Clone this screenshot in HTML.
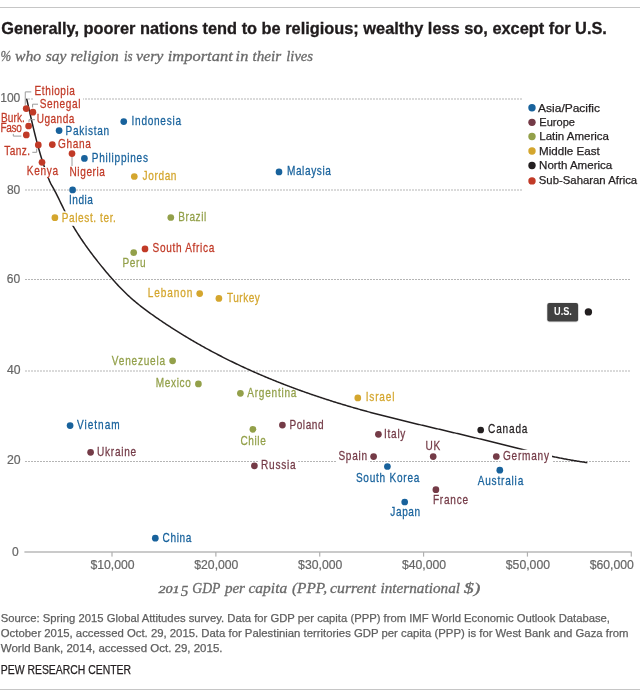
<!DOCTYPE html>
<html><head><meta charset="utf-8"><style>
html,body{margin:0;padding:0;background:#fff;}
svg{display:block;will-change:transform;}
text{font-family:"Liberation Sans",sans-serif;}
</style></head><body>
<svg width="640" height="697" viewBox="0 0 640 697">
<rect x="0" y="7" width="640" height="1" fill="#c6c6c6"/>
<text x="1.20" y="33.60" font-size="16" fill="#1f1b1c" textLength="605.68" lengthAdjust="spacingAndGlyphs" font-weight="bold" stroke="#1f1b1c" stroke-width="0.3">Generally, poorer nations tend to be religious; wealthy less so, except for U.S.</text>
<text x="0.50" y="61.10" font-size="14" fill="#6a6a6a" textLength="10.71" lengthAdjust="spacingAndGlyphs" font-style="italic" style="font-family:&quot;Liberation Serif&quot;,serif" stroke="#6a6a6a" stroke-width="0.3">%</text>
<text x="15.00" y="61.10" font-size="14" fill="#6a6a6a" textLength="26.19" lengthAdjust="spacingAndGlyphs" font-style="italic" style="font-family:&quot;Liberation Serif&quot;,serif" stroke="#6a6a6a" stroke-width="0.3">who</text>
<text x="45.70" y="61.10" font-size="14" fill="#6a6a6a" textLength="20.66" lengthAdjust="spacingAndGlyphs" font-style="italic" style="font-family:&quot;Liberation Serif&quot;,serif" stroke="#6a6a6a" stroke-width="0.3">say</text>
<text x="70.60" y="61.10" font-size="14" fill="#6a6a6a" textLength="48.21" lengthAdjust="spacingAndGlyphs" font-style="italic" style="font-family:&quot;Liberation Serif&quot;,serif" stroke="#6a6a6a" stroke-width="0.3">religion</text>
<text x="123.90" y="61.10" font-size="14" fill="#6a6a6a" textLength="8.69" lengthAdjust="spacingAndGlyphs" font-style="italic" style="font-family:&quot;Liberation Serif&quot;,serif" stroke="#6a6a6a" stroke-width="0.3">is</text>
<text x="136.00" y="61.10" font-size="14" fill="#6a6a6a" textLength="27.43" lengthAdjust="spacingAndGlyphs" font-style="italic" style="font-family:&quot;Liberation Serif&quot;,serif" stroke="#6a6a6a" stroke-width="0.3">very</text>
<text x="167.80" y="61.10" font-size="14" fill="#6a6a6a" textLength="64.92" lengthAdjust="spacingAndGlyphs" font-style="italic" style="font-family:&quot;Liberation Serif&quot;,serif" stroke="#6a6a6a" stroke-width="0.3">important</text>
<text x="235.60" y="61.10" font-size="14" fill="#6a6a6a" textLength="12.69" lengthAdjust="spacingAndGlyphs" font-style="italic" style="font-family:&quot;Liberation Serif&quot;,serif" stroke="#6a6a6a" stroke-width="0.3">in</text>
<text x="252.50" y="61.10" font-size="14" fill="#6a6a6a" textLength="28.74" lengthAdjust="spacingAndGlyphs" font-style="italic" style="font-family:&quot;Liberation Serif&quot;,serif" stroke="#6a6a6a" stroke-width="0.3">their</text>
<text x="286.30" y="61.10" font-size="14" fill="#6a6a6a" textLength="26.71" lengthAdjust="spacingAndGlyphs" font-style="italic" style="font-family:&quot;Liberation Serif&quot;,serif" stroke="#6a6a6a" stroke-width="0.3">lives</text>
<line x1="28" y1="99.0" x2="522" y2="99.0" stroke="#b5b5b5" stroke-width="1" stroke-dasharray="2,1"/>
<line x1="25" y1="190.0" x2="522" y2="190.0" stroke="#b5b5b5" stroke-width="1" stroke-dasharray="2,1"/>
<line x1="25" y1="279.5" x2="631" y2="279.5" stroke="#b5b5b5" stroke-width="1" stroke-dasharray="2,1"/>
<line x1="25" y1="371.0" x2="631" y2="371.0" stroke="#b5b5b5" stroke-width="1" stroke-dasharray="2,1"/>
<line x1="25" y1="461.5" x2="631" y2="461.5" stroke="#b5b5b5" stroke-width="1" stroke-dasharray="2,1"/>
<text x="0.20" y="101.90" font-size="12" fill="#666" textLength="20.12" lengthAdjust="spacingAndGlyphs" stroke="#666" stroke-width="0.2">100</text>
<text x="6.90" y="193.90" font-size="12" fill="#666" textLength="13.40" lengthAdjust="spacingAndGlyphs" stroke="#666" stroke-width="0.2">80</text>
<text x="6.75" y="282.65" font-size="12" fill="#666" textLength="13.40" lengthAdjust="spacingAndGlyphs" stroke="#666" stroke-width="0.2">60</text>
<text x="7.00" y="373.70" font-size="12" fill="#666" textLength="13.60" lengthAdjust="spacingAndGlyphs" stroke="#666" stroke-width="0.2">40</text>
<text x="6.90" y="464.00" font-size="12" fill="#666" textLength="13.70" lengthAdjust="spacingAndGlyphs" stroke="#666" stroke-width="0.2">20</text>
<text x="11.90" y="555.90" font-size="12" fill="#666" textLength="6.72" lengthAdjust="spacingAndGlyphs" stroke="#666" stroke-width="0.2">0</text>
<rect x="24.4" y="551.2" width="607.3" height="1.6" fill="#bdbdbd"/>
<rect x="111.40" y="552" width="1.2" height="4.6" fill="#b0b0b0"/>
<text x="90.40" y="568.90" font-size="12" fill="#666" textLength="44.18" lengthAdjust="spacingAndGlyphs" stroke="#666" stroke-width="0.2">$10,000</text>
<rect x="215.26" y="552" width="1.2" height="4.6" fill="#b0b0b0"/>
<text x="194.26" y="568.90" font-size="12" fill="#666" textLength="44.18" lengthAdjust="spacingAndGlyphs" stroke="#666" stroke-width="0.2">$20,000</text>
<rect x="319.12" y="552" width="1.2" height="4.6" fill="#b0b0b0"/>
<text x="298.12" y="568.90" font-size="12" fill="#666" textLength="44.18" lengthAdjust="spacingAndGlyphs" stroke="#666" stroke-width="0.2">$30,000</text>
<rect x="422.98" y="552" width="1.2" height="4.6" fill="#b0b0b0"/>
<text x="401.98" y="568.90" font-size="12" fill="#666" textLength="44.18" lengthAdjust="spacingAndGlyphs" stroke="#666" stroke-width="0.2">$40,000</text>
<rect x="526.84" y="552" width="1.2" height="4.6" fill="#b0b0b0"/>
<text x="505.84" y="568.90" font-size="12" fill="#666" textLength="44.18" lengthAdjust="spacingAndGlyphs" stroke="#666" stroke-width="0.2">$50,000</text>
<rect x="630.70" y="552" width="1.2" height="4.6" fill="#b0b0b0"/>
<text x="589.70" y="568.90" font-size="12" fill="#666" textLength="44.18" lengthAdjust="spacingAndGlyphs" stroke="#666" stroke-width="0.2">$60,000</text>
<text x="158.50" y="592.70" font-size="10" fill="#6a6a6a" textLength="21.10" lengthAdjust="spacingAndGlyphs" font-style="italic" style="font-family:&quot;Liberation Serif&quot;,serif" stroke="#6a6a6a" stroke-width="0.35">201</text>
<text x="180.70" y="595.80" font-size="14" fill="#6a6a6a" textLength="7.60" lengthAdjust="spacingAndGlyphs" font-style="italic" style="font-family:&quot;Liberation Serif&quot;,serif" stroke="#6a6a6a" stroke-width="0.3">5</text>
<text x="192.30" y="592.70" font-size="14" fill="#6a6a6a" textLength="28.12" lengthAdjust="spacingAndGlyphs" font-style="italic" style="font-family:&quot;Liberation Serif&quot;,serif" stroke="#6a6a6a" stroke-width="0.3">GDP</text>
<text x="224.91" y="592.70" font-size="14" fill="#6a6a6a" textLength="20.05" lengthAdjust="spacingAndGlyphs" font-style="italic" style="font-family:&quot;Liberation Serif&quot;,serif" stroke="#6a6a6a" stroke-width="0.3">per</text>
<text x="248.50" y="592.70" font-size="14" fill="#6a6a6a" textLength="38.69" lengthAdjust="spacingAndGlyphs" font-style="italic" style="font-family:&quot;Liberation Serif&quot;,serif" stroke="#6a6a6a" stroke-width="0.3">capita</text>
<text x="291.90" y="592.70" font-size="14" fill="#6a6a6a" textLength="35.11" lengthAdjust="spacingAndGlyphs" font-style="italic" style="font-family:&quot;Liberation Serif&quot;,serif" stroke="#6a6a6a" stroke-width="0.3">(PPP,</text>
<text x="330.00" y="592.70" font-size="14" fill="#6a6a6a" textLength="45.91" lengthAdjust="spacingAndGlyphs" font-style="italic" style="font-family:&quot;Liberation Serif&quot;,serif" stroke="#6a6a6a" stroke-width="0.3">current</text>
<text x="380.50" y="592.70" font-size="14" fill="#6a6a6a" textLength="79.51" lengthAdjust="spacingAndGlyphs" font-style="italic" style="font-family:&quot;Liberation Serif&quot;,serif" stroke="#6a6a6a" stroke-width="0.3">international</text>
<text x="463.75" y="592.70" font-size="14" fill="#6a6a6a" textLength="16.77" lengthAdjust="spacingAndGlyphs" font-style="italic" style="font-family:&quot;Liberation Serif&quot;,serif" stroke="#6a6a6a" stroke-width="0.3">$)</text>
<path d="M26.6,98.70 L27.6,103.01 L28.6,107.38 L29.6,111.78 L30.6,116.15 L31.6,120.48 L32.6,124.75 L33.6,128.93 L34.6,133.02 L35.6,137.00 L36.6,140.87 L37.6,144.63 L38.6,148.27 L39.6,151.78 L40.6,155.18 L41.6,158.45 L42.6,161.60 L43.6,164.63 L44.6,167.54 L45.6,170.34 L46.6,173.09 L47.6,175.82 L48.6,178.59 L49.6,181.12 L50.6,183.28 L51.6,185.20 L52.6,186.99 L53.6,188.74 L54.6,190.54 L55.6,192.42 L56.6,194.38 L57.6,196.39 L58.6,198.44 L59.6,200.50 L60.6,202.58 L61.6,204.65 L62.6,206.70 L63.6,208.73 L64.6,210.72 L65.6,212.68 L66.6,214.59 L67.6,216.46 L68.6,218.30 L69.6,220.10 L70.6,221.86 L71.6,223.60 L72.6,225.31 L73.6,226.99 L74.6,228.64 L75.6,230.26 L76.6,231.86 L77.6,233.44 L78.6,234.99 L79.6,236.53 L80.6,238.04 L81.6,239.53 L82.6,241.01 L83.6,242.47 L84.6,243.91 L85.6,245.33 L86.6,246.74 L87.6,248.13 L88.6,249.51 L89.6,250.87 L90.6,252.22 L91.6,253.56 L92.6,254.89 L93.6,256.20 L94.6,257.51 L95.6,258.80 L96.6,260.08 L97.6,261.35 L98.6,262.62 L99.6,263.87 L100.6,265.11 L101.6,266.35 L102.6,267.58 L103.6,268.79 L104.6,270.01 L105.6,271.21 L106.6,272.40 L107.6,273.59 L108.6,274.77 L109.6,275.93 L110.6,277.09 L111.6,278.24 L112.6,279.37 L113.6,280.50 L114.6,281.61 L115.6,282.71 L116.6,283.80 L117.6,284.88 L118.6,285.94 L119.6,287.00 L120.6,288.03 L121.6,289.06 L122.6,290.07 L123.6,291.07 L124.6,292.06 L125.6,293.03 L126.6,293.99 L127.6,294.94 L128.6,295.87 L129.6,296.78 L130.6,297.69 L131.6,298.58 L132.6,299.45 L133.6,300.32 L134.6,301.17 L135.6,302.01 L136.6,302.84 L137.6,303.66 L138.6,304.47 L139.6,305.27 L140.6,306.06 L141.6,306.84 L142.6,307.61 L143.6,308.38 L144.6,309.14 L145.6,309.89 L146.6,310.63 L147.6,311.37 L148.6,312.10 L149.6,312.83 L150.6,313.55 L151.6,314.26 L152.6,314.97 L153.6,315.67 L154.6,316.38 L155.6,317.07 L156.6,317.76 L157.6,318.45 L158.6,319.14 L159.6,319.82 L160.6,320.50 L161.6,321.17 L162.6,321.85 L163.6,322.52 L164.6,323.18 L165.6,323.85 L166.6,324.51 L167.6,325.16 L168.6,325.82 L169.6,326.47 L170.6,327.12 L171.6,327.76 L172.6,328.41 L173.6,329.05 L174.6,329.68 L175.6,330.32 L176.6,330.95 L177.6,331.58 L178.6,332.20 L179.6,332.83 L180.6,333.45 L181.6,334.06 L182.6,334.68 L183.6,335.29 L184.6,335.90 L185.6,336.50 L186.6,337.10 L187.6,337.70 L188.6,338.30 L189.6,338.90 L190.6,339.49 L191.6,340.08 L192.6,340.66 L193.6,341.25 L194.6,341.83 L195.6,342.41 L196.6,342.98 L197.6,343.55 L198.6,344.12 L199.6,344.69 L200.6,345.26 L201.6,345.82 L202.6,346.38 L203.6,346.94 L204.6,347.49 L205.6,348.04 L206.6,348.59 L207.6,349.14 L208.6,349.68 L209.6,350.23 L210.6,350.76 L211.6,351.30 L212.6,351.84 L213.6,352.37 L214.6,352.90 L215.6,353.43 L216.6,353.95 L217.6,354.47 L218.6,354.99 L219.6,355.51 L220.6,356.03 L221.6,356.54 L222.6,357.05 L223.6,357.56 L224.6,358.06 L225.6,358.57 L226.6,359.07 L227.6,359.57 L228.6,360.06 L229.6,360.56 L230.6,361.05 L231.6,361.54 L232.6,362.03 L233.6,362.51 L234.6,363.00 L235.6,363.48 L236.6,363.96 L237.6,364.43 L238.6,364.91 L239.6,365.38 L240.6,365.85 L241.6,366.32 L242.6,366.78 L243.6,367.25 L244.6,367.71 L245.6,368.17 L246.6,368.63 L247.6,369.08 L248.6,369.54 L249.6,369.99 L250.6,370.44 L251.6,370.89 L252.6,371.33 L253.6,371.78 L254.6,372.22 L255.6,372.66 L256.6,373.10 L257.6,373.53 L258.6,373.97 L259.6,374.40 L260.6,374.83 L261.6,375.26 L262.6,375.68 L263.6,376.11 L264.6,376.53 L265.6,376.95 L266.6,377.37 L267.6,377.78 L268.6,378.20 L269.6,378.61 L270.6,379.02 L271.6,379.43 L272.6,379.84 L273.6,380.25 L274.6,380.65 L275.6,381.06 L276.6,381.46 L277.6,381.85 L278.6,382.25 L279.6,382.65 L280.6,383.04 L281.6,383.43 L282.6,383.82 L283.6,384.21 L284.6,384.60 L285.6,384.98 L286.6,385.37 L287.6,385.75 L288.6,386.13 L289.6,386.51 L290.6,386.89 L291.6,387.26 L292.6,387.64 L293.6,388.01 L294.6,388.38 L295.6,388.75 L296.6,389.12 L297.6,389.48 L298.6,389.85 L299.6,390.21 L300.6,390.57 L301.6,390.93 L302.6,391.29 L303.6,391.64 L304.6,392.00 L305.6,392.35 L306.6,392.70 L307.6,393.05 L308.6,393.40 L309.6,393.75 L310.6,394.10 L311.6,394.44 L312.6,394.79 L313.6,395.13 L314.6,395.47 L315.6,395.81 L316.6,396.14 L317.6,396.48 L318.6,396.81 L319.6,397.15 L320.6,397.48 L321.6,397.81 L322.6,398.14 L323.6,398.47 L324.6,398.79 L325.6,399.12 L326.6,399.44 L327.6,399.76 L328.6,400.08 L329.6,400.40 L330.6,400.72 L331.6,401.04 L332.6,401.35 L333.6,401.67 L334.6,401.98 L335.6,402.29 L336.6,402.60 L337.6,402.91 L338.6,403.22 L339.6,403.52 L340.6,403.83 L341.6,404.13 L342.6,404.44 L343.6,404.74 L344.6,405.04 L345.6,405.34 L346.6,405.63 L347.6,405.93 L348.6,406.22 L349.6,406.52 L350.6,406.81 L351.6,407.10 L352.6,407.39 L353.6,407.68 L354.6,407.97 L355.6,408.26 L356.6,408.54 L357.6,408.83 L358.6,409.11 L359.6,409.39 L360.6,409.67 L361.6,409.95 L362.6,410.23 L363.6,410.51 L364.6,410.79 L365.6,411.06 L366.6,411.33 L367.6,411.61 L368.6,411.88 L369.6,412.15 L370.6,412.42 L371.6,412.69 L372.6,412.96 L373.6,413.22 L374.6,413.49 L375.6,413.75 L376.6,414.01 L377.6,414.28 L378.6,414.54 L379.6,414.80 L380.6,415.06 L381.6,415.32 L382.6,415.57 L383.6,415.83 L384.6,416.08 L385.6,416.34 L386.6,416.59 L387.6,416.85 L388.6,417.10 L389.6,417.35 L390.6,417.60 L391.6,417.85 L392.6,418.10 L393.6,418.35 L394.6,418.60 L395.6,418.84 L396.6,419.09 L397.6,419.34 L398.6,419.58 L399.6,419.83 L400.6,420.07 L401.6,420.32 L402.6,420.56 L403.6,420.80 L404.6,421.05 L405.6,421.29 L406.6,421.53 L407.6,421.77 L408.6,422.01 L409.6,422.25 L410.6,422.49 L411.6,422.73 L412.6,422.97 L413.6,423.21 L414.6,423.45 L415.6,423.69 L416.6,423.92 L417.6,424.16 L418.6,424.40 L419.6,424.64 L420.6,424.87 L421.6,425.11 L422.6,425.35 L423.6,425.58 L424.6,425.82 L425.6,426.06 L426.6,426.29 L427.6,426.53 L428.6,426.76 L429.6,427.00 L430.6,427.23 L431.6,427.47 L432.6,427.71 L433.6,427.94 L434.6,428.18 L435.6,428.41 L436.6,428.65 L437.6,428.88 L438.6,429.12 L439.6,429.35 L440.6,429.59 L441.6,429.82 L442.6,430.06 L443.6,430.29 L444.6,430.53 L445.6,430.76 L446.6,431.00 L447.6,431.23 L448.6,431.47 L449.6,431.70 L450.6,431.94 L451.6,432.18 L452.6,432.41 L453.6,432.65 L454.6,432.88 L455.6,433.12 L456.6,433.36 L457.6,433.59 L458.6,433.83 L459.6,434.07 L460.6,434.30 L461.6,434.54 L462.6,434.78 L463.6,435.02 L464.6,435.25 L465.6,435.49 L466.6,435.73 L467.6,435.97 L468.6,436.21 L469.6,436.45 L470.6,436.69 L471.6,436.93 L472.6,437.17 L473.6,437.41 L474.6,437.65 L475.6,437.89 L476.6,438.13 L477.6,438.37 L478.6,438.61 L479.6,438.86 L480.6,439.10 L481.6,439.34 L482.6,439.58 L483.6,439.83 L484.6,440.07 L485.6,440.31 L486.6,440.56 L487.6,440.80 L488.6,441.05 L489.6,441.29 L490.6,441.54 L491.6,441.79 L492.6,442.03 L493.6,442.28 L494.6,442.53 L495.6,442.77 L496.6,443.02 L497.6,443.27 L498.6,443.52 L499.6,443.77 L500.6,444.02 L501.6,444.27 L502.6,444.52 L503.6,444.77 L504.6,445.02 L505.6,445.27 L506.6,445.53 L507.6,445.78 L508.6,446.03 L509.6,446.28 L510.6,446.53 L511.6,446.78 L512.6,447.03 L513.6,447.28 L514.6,447.54 L515.6,447.79 L516.6,448.04 L517.6,448.29 L518.6,448.53 L519.6,448.78 L520.6,449.03 L521.6,449.28 L522.6,449.53 L523.6,449.77 L524.6,450.02 L525.6,450.26 L526.6,450.51 L527.6,450.75 L528.6,451.00 L529.6,451.24 L530.6,451.48 L531.6,451.72 L532.6,451.96 L533.6,452.20 L534.6,452.43 L535.6,452.67 L536.6,452.90 L537.6,453.14 L538.6,453.37 L539.6,453.60 L540.6,453.83 L541.6,454.06 L542.6,454.29 L543.6,454.51 L544.6,454.74 L545.6,454.96 L546.6,455.18 L547.6,455.40 L548.6,455.62 L549.6,455.84 L550.6,456.05 L551.6,456.27 L552.6,456.48 L553.6,456.69 L554.6,456.90 L555.6,457.11 L556.6,457.31 L557.6,457.52 L558.6,457.72 L559.6,457.92 L560.6,458.12 L561.6,458.31 L562.6,458.51 L563.6,458.70 L564.6,458.89 L565.6,459.08 L566.6,459.27 L567.6,459.45 L568.6,459.63 L569.6,459.82 L570.6,459.99 L571.6,460.17 L572.6,460.34 L573.6,460.52 L574.6,460.69 L575.6,460.85 L576.6,461.02 L577.6,461.18 L578.6,461.34 L579.6,461.50 L580.6,461.66 L581.6,461.81 L582.6,461.97 L583.6,462.11 L584.6,462.26 L585.6,462.41 L586.6,462.55 L587.3,462.65" fill="none" stroke="#231f20" stroke-width="1.5" stroke-linejoin="round"/>
<rect x="33" y="97" width="50.00" height="3.00" fill="#fff"/>
<rect x="26" y="167" width="33.00" height="10.70" fill="#fff"/>
<rect x="60" y="211.3" width="57.00" height="14.50" fill="#fff"/>
<rect x="258.3" y="459.5" width="38.30" height="3.50" fill="#fff"/>
<rect x="336.25" y="459.5" width="32.50" height="3.50" fill="#fff"/>
<rect x="500.5" y="449.8" width="51.50" height="13.20" fill="#fff"/>
<path d="M31.3,91.9 H25.25 V104.8 M38,104.2 H32.6 V107.5 M35,119.7 H29 V122 M13.3,133.9 V136.1 H21.3 M32.3,152.3 H36.7 V148.7 M72,156.5 V166" fill="none" stroke="#9a9a9a" stroke-width="1"/>
<circle cx="26.2" cy="108.60" r="3.35" fill="#c13a27"/>
<circle cx="32.9" cy="112.20" r="3.35" fill="#c13a27"/>
<circle cx="28.6" cy="126.00" r="3.35" fill="#c13a27"/>
<circle cx="26.3" cy="134.90" r="3.35" fill="#c13a27"/>
<circle cx="38.3" cy="144.90" r="3.35" fill="#c13a27"/>
<circle cx="52.3" cy="144.60" r="3.35" fill="#c13a27"/>
<circle cx="72.0" cy="153.60" r="3.35" fill="#c13a27"/>
<circle cx="42.0" cy="162.30" r="3.35" fill="#c13a27"/>
<circle cx="145.0" cy="248.90" r="3.35" fill="#c13a27"/>
<circle cx="123.75" cy="121.55" r="3.35" fill="#18629c"/>
<circle cx="59.1" cy="130.60" r="3.35" fill="#18629c"/>
<circle cx="84.4" cy="158.40" r="3.35" fill="#18629c"/>
<circle cx="279.0" cy="171.90" r="3.35" fill="#18629c"/>
<circle cx="72.6" cy="189.90" r="3.35" fill="#18629c"/>
<circle cx="70.1" cy="425.60" r="3.35" fill="#18629c"/>
<circle cx="387.4" cy="466.50" r="3.35" fill="#18629c"/>
<circle cx="404.7" cy="502.00" r="3.35" fill="#18629c"/>
<circle cx="499.8" cy="470.20" r="3.35" fill="#18629c"/>
<circle cx="155.3" cy="538.20" r="3.35" fill="#18629c"/>
<circle cx="134.3" cy="176.50" r="3.35" fill="#d4a62e"/>
<circle cx="54.9" cy="217.70" r="3.35" fill="#d4a62e"/>
<circle cx="199.7" cy="293.60" r="3.35" fill="#d4a62e"/>
<circle cx="218.9" cy="298.40" r="3.35" fill="#d4a62e"/>
<circle cx="357.8" cy="397.90" r="3.35" fill="#d4a62e"/>
<circle cx="170.8" cy="217.50" r="3.35" fill="#93a04a"/>
<circle cx="133.7" cy="252.60" r="3.35" fill="#93a04a"/>
<circle cx="172.6" cy="360.80" r="3.35" fill="#93a04a"/>
<circle cx="198.4" cy="383.90" r="3.35" fill="#93a04a"/>
<circle cx="240.4" cy="393.30" r="3.35" fill="#93a04a"/>
<circle cx="252.9" cy="429.30" r="3.35" fill="#93a04a"/>
<circle cx="282.4" cy="425.10" r="3.35" fill="#743b47"/>
<circle cx="378.4" cy="434.30" r="3.35" fill="#743b47"/>
<circle cx="90.6" cy="452.30" r="3.35" fill="#743b47"/>
<circle cx="254.4" cy="465.80" r="3.35" fill="#743b47"/>
<circle cx="373.6" cy="456.60" r="3.35" fill="#743b47"/>
<circle cx="433.2" cy="456.60" r="3.35" fill="#743b47"/>
<circle cx="496.3" cy="456.50" r="3.35" fill="#743b47"/>
<circle cx="435.9" cy="489.70" r="3.35" fill="#743b47"/>
<circle cx="480.7" cy="430.00" r="3.35" fill="#231f20"/>
<text transform="translate(34.55,94.70) scale(0.84,1)" x="0" y="0" font-size="12" fill="#c13a27" stroke="#c13a27" stroke-width="0.25" textLength="48.12" lengthAdjust="spacing">Ethiopia</text>
<text transform="translate(39.70,107.50) scale(0.84,1)" x="0" y="0" font-size="12" fill="#c13a27" stroke="#c13a27" stroke-width="0.25" textLength="48.44" lengthAdjust="spacing">Senegal</text>
<text transform="translate(36.70,122.80) scale(0.84,1)" x="0" y="0" font-size="12" fill="#c13a27" stroke="#c13a27" stroke-width="0.25" textLength="44.87" lengthAdjust="spacing">Uganda</text>
<text transform="translate(0.90,121.60) scale(0.84,1)" x="0" y="0" font-size="12" fill="#c13a27" stroke="#c13a27" stroke-width="0.25" textLength="28.58" lengthAdjust="spacing">Burk.</text>
<text transform="translate(4.20,154.50) scale(0.84,1)" x="0" y="0" font-size="12" fill="#c13a27" stroke="#c13a27" stroke-width="0.25" textLength="30.82" lengthAdjust="spacing">Tanz.</text>
<text transform="translate(58.00,147.50) scale(0.84,1)" x="0" y="0" font-size="12" fill="#c13a27" stroke="#c13a27" stroke-width="0.25" textLength="39.27" lengthAdjust="spacing">Ghana</text>
<text transform="translate(69.50,175.60) scale(0.84,1)" x="0" y="0" font-size="12" fill="#c13a27" stroke="#c13a27" stroke-width="0.25" textLength="42.23" lengthAdjust="spacing">Nigeria</text>
<text transform="translate(26.75,175.00) scale(0.84,1)" x="0" y="0" font-size="12" fill="#c13a27" stroke="#c13a27" stroke-width="0.25" textLength="37.47" lengthAdjust="spacing">Kenya</text>
<text transform="translate(152.50,252.30) scale(0.84,1)" x="0" y="0" font-size="12" fill="#c13a27" stroke="#c13a27" stroke-width="0.25" textLength="73.64" lengthAdjust="spacing">South Africa</text>
<text transform="translate(131.60,124.80) scale(0.84,1)" x="0" y="0" font-size="12" fill="#18629c" stroke="#18629c" stroke-width="0.25" textLength="58.81" lengthAdjust="spacing">Indonesia</text>
<text transform="translate(65.50,134.60) scale(0.84,1)" x="0" y="0" font-size="12" fill="#18629c" stroke="#18629c" stroke-width="0.25" textLength="52.06" lengthAdjust="spacing">Pakistan</text>
<text transform="translate(91.75,161.75) scale(0.84,1)" x="0" y="0" font-size="12" fill="#18629c" stroke="#18629c" stroke-width="0.25" textLength="66.95" lengthAdjust="spacing">Philippines</text>
<text transform="translate(286.90,174.70) scale(0.84,1)" x="0" y="0" font-size="12" fill="#18629c" stroke="#18629c" stroke-width="0.25" textLength="52.45" lengthAdjust="spacing">Malaysia</text>
<text transform="translate(69.00,203.60) scale(0.84,1)" x="0" y="0" font-size="12" fill="#18629c" stroke="#18629c" stroke-width="0.25" textLength="28.54" lengthAdjust="spacing">India</text>
<text transform="translate(77.10,429.00) scale(0.84,1)" x="0" y="0" font-size="12" fill="#18629c" stroke="#18629c" stroke-width="0.25" textLength="50.60" lengthAdjust="spacing">Vietnam</text>
<text transform="translate(355.90,481.70) scale(0.84,1)" x="0" y="0" font-size="12" fill="#18629c" stroke="#18629c" stroke-width="0.25" textLength="75.56" lengthAdjust="spacing">South Korea</text>
<text transform="translate(390.30,516.30) scale(0.84,1)" x="0" y="0" font-size="12" fill="#18629c" stroke="#18629c" stroke-width="0.25" textLength="35.59" lengthAdjust="spacing">Japan</text>
<text transform="translate(477.70,484.50) scale(0.84,1)" x="0" y="0" font-size="12" fill="#18629c" stroke="#18629c" stroke-width="0.25" textLength="54.27" lengthAdjust="spacing">Australia</text>
<text transform="translate(162.60,541.90) scale(0.84,1)" x="0" y="0" font-size="12" fill="#18629c" stroke="#18629c" stroke-width="0.25" textLength="34.12" lengthAdjust="spacing">China</text>
<text transform="translate(142.50,180.00) scale(0.84,1)" x="0" y="0" font-size="12" fill="#d4a62e" stroke="#d4a62e" stroke-width="0.25" textLength="40.47" lengthAdjust="spacing">Jordan</text>
<text transform="translate(61.70,221.90) scale(0.84,1)" x="0" y="0" font-size="12" fill="#d4a62e" stroke="#d4a62e" stroke-width="0.25" textLength="64.52" lengthAdjust="spacing">Palest. ter.</text>
<text transform="translate(147.70,296.70) scale(0.84,1)" x="0" y="0" font-size="12" fill="#d4a62e" stroke="#d4a62e" stroke-width="0.25" textLength="53.24" lengthAdjust="spacing">Lebanon</text>
<text transform="translate(227.00,301.80) scale(0.84,1)" x="0" y="0" font-size="12" fill="#d4a62e" stroke="#d4a62e" stroke-width="0.25" textLength="39.14" lengthAdjust="spacing">Turkey</text>
<text transform="translate(365.70,400.90) scale(0.84,1)" x="0" y="0" font-size="12" fill="#d4a62e" stroke="#d4a62e" stroke-width="0.25" textLength="34.16" lengthAdjust="spacing">Israel</text>
<text transform="translate(178.25,220.75) scale(0.84,1)" x="0" y="0" font-size="12" fill="#93a04a" stroke="#93a04a" stroke-width="0.25" textLength="33.34" lengthAdjust="spacing">Brazil</text>
<text transform="translate(122.40,266.60) scale(0.84,1)" x="0" y="0" font-size="12" fill="#93a04a" stroke="#93a04a" stroke-width="0.25" textLength="27.50" lengthAdjust="spacing">Peru</text>
<text transform="translate(111.80,364.70) scale(0.84,1)" x="0" y="0" font-size="12" fill="#93a04a" stroke="#93a04a" stroke-width="0.25" textLength="63.52" lengthAdjust="spacing">Venezuela</text>
<text transform="translate(155.70,387.00) scale(0.84,1)" x="0" y="0" font-size="12" fill="#93a04a" stroke="#93a04a" stroke-width="0.25" textLength="41.80" lengthAdjust="spacing">Mexico</text>
<text transform="translate(247.30,396.70) scale(0.84,1)" x="0" y="0" font-size="12" fill="#93a04a" stroke="#93a04a" stroke-width="0.25" textLength="58.54" lengthAdjust="spacing">Argentina</text>
<text transform="translate(240.50,444.50) scale(0.84,1)" x="0" y="0" font-size="12" fill="#93a04a" stroke="#93a04a" stroke-width="0.25" textLength="30.12" lengthAdjust="spacing">Chile</text>
<text transform="translate(289.50,428.50) scale(0.84,1)" x="0" y="0" font-size="12" fill="#743b47" stroke="#743b47" stroke-width="0.25" textLength="40.49" lengthAdjust="spacing">Poland</text>
<text transform="translate(384.00,438.10) scale(0.84,1)" x="0" y="0" font-size="12" fill="#743b47" stroke="#743b47" stroke-width="0.25" textLength="25.49" lengthAdjust="spacing">Italy</text>
<text transform="translate(97.10,455.70) scale(0.84,1)" x="0" y="0" font-size="12" fill="#743b47" stroke="#743b47" stroke-width="0.25" textLength="46.55" lengthAdjust="spacing">Ukraine</text>
<text transform="translate(261.10,468.90) scale(0.84,1)" x="0" y="0" font-size="12" fill="#743b47" stroke="#743b47" stroke-width="0.25" textLength="41.05" lengthAdjust="spacing">Russia</text>
<text transform="translate(338.40,460.00) scale(0.84,1)" x="0" y="0" font-size="12" fill="#743b47" stroke="#743b47" stroke-width="0.25" textLength="34.16" lengthAdjust="spacing">Spain</text>
<text transform="translate(425.60,449.90) scale(0.84,1)" x="0" y="0" font-size="12" fill="#743b47" stroke="#743b47" stroke-width="0.25" textLength="17.40" lengthAdjust="spacing">UK</text>
<text transform="translate(503.00,459.80) scale(0.84,1)" x="0" y="0" font-size="12" fill="#743b47" stroke="#743b47" stroke-width="0.25" textLength="54.76" lengthAdjust="spacing">Germany</text>
<text transform="translate(432.90,503.60) scale(0.84,1)" x="0" y="0" font-size="12" fill="#743b47" stroke="#743b47" stroke-width="0.25" textLength="41.90" lengthAdjust="spacing">France</text>
<text transform="translate(488.10,433.30) scale(0.84,1)" x="0" y="0" font-size="12" fill="#231f20" stroke="#231f20" stroke-width="0.25" textLength="46.89" lengthAdjust="spacing">Canada</text>
<text transform="translate(0.50,131.70) scale(0.84,1)" x="0" y="0" font-size="12" fill="#c13a27" stroke="#c13a27" stroke-width="0.25" textLength="25.46" lengthAdjust="spacing">Faso</text>
<rect x="546.6" y="302.4" width="32.2" height="20" rx="3" fill="#000" opacity="0.10"/>
<rect x="547.3" y="302.9" width="30.8" height="18.6" rx="2" fill="#414141"/>
<text x="554.10" y="315.20" font-size="10" fill="#fff" textLength="17.80" lengthAdjust="spacingAndGlyphs" font-weight="bold">U.S.</text>
<circle cx="588.4" cy="311.9" r="3.7" fill="#231f20"/>
<circle cx="532" cy="107.75" r="3.7" fill="#18629c"/>
<text x="538.10" y="111.60" font-size="11.5" fill="#231f20" textLength="61.89" lengthAdjust="spacingAndGlyphs" stroke="#231f20" stroke-width="0.25">Asia/Pacific</text>
<circle cx="532" cy="122.35" r="3.7" fill="#743b47"/>
<text x="539.30" y="126.00" font-size="11.5" fill="#231f20" textLength="35.68" lengthAdjust="spacingAndGlyphs" stroke="#231f20" stroke-width="0.25">Europe</text>
<circle cx="532" cy="136.5" r="3.7" fill="#93a04a"/>
<text x="539.30" y="140.00" font-size="11.5" fill="#231f20" textLength="69.68" lengthAdjust="spacingAndGlyphs" stroke="#231f20" stroke-width="0.25">Latin America</text>
<circle cx="532" cy="151.0" r="3.7" fill="#d4a62e"/>
<text x="539.10" y="154.60" font-size="11.5" fill="#231f20" textLength="60.58" lengthAdjust="spacingAndGlyphs" stroke="#231f20" stroke-width="0.25">Middle East</text>
<circle cx="532" cy="165.45" r="3.7" fill="#231f20"/>
<text x="539.10" y="168.70" font-size="11.5" fill="#231f20" textLength="73.16" lengthAdjust="spacingAndGlyphs" stroke="#231f20" stroke-width="0.25">North America</text>
<circle cx="532" cy="180.9" r="3.7" fill="#c13a27"/>
<text x="538.80" y="184.40" font-size="11.5" fill="#231f20" textLength="98.38" lengthAdjust="spacingAndGlyphs" stroke="#231f20" stroke-width="0.25">Sub-Saharan Africa</text>
<text x="0.80" y="621.90" font-size="11.5" fill="#5e5e5e" textLength="609.19" lengthAdjust="spacingAndGlyphs" stroke="#5e5e5e" stroke-width="0.25">Source: Spring 2015 Global Attitudes survey. Data for GDP per capita (PPP) from IMF World Economic Outlook Database,</text>
<text x="0.80" y="636.90" font-size="11.5" fill="#5e5e5e" textLength="627.68" lengthAdjust="spacingAndGlyphs" stroke="#5e5e5e" stroke-width="0.25">October 2015, accessed Oct. 29, 2015. Data for Palestinian territories GDP per capita (PPP) is for West Bank and Gaza from</text>
<text x="0.80" y="651.90" font-size="11.5" fill="#5e5e5e" textLength="221.72" lengthAdjust="spacingAndGlyphs" stroke="#5e5e5e" stroke-width="0.25">World Bank, 2014, accessed Oct. 29, 2015.</text>
<text x="0.80" y="673.75" font-size="12" fill="#231f20" textLength="130.22" lengthAdjust="spacingAndGlyphs" stroke="#231f20" stroke-width="0.25">PEW RESEARCH CENTER</text>
<rect x="0" y="689" width="640" height="1" fill="#c6c6c6"/>
</svg></body></html>
